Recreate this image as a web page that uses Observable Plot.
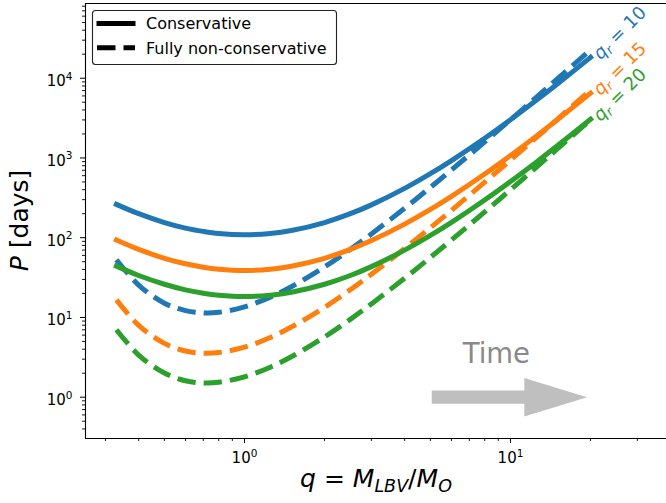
<!DOCTYPE html>
<html><head><meta charset="utf-8">
<script src="https://cdn.jsdelivr.net/npm/d3@7"></script>
<script src="https://cdn.jsdelivr.net/npm/@observablehq/plot@0.6"></script>
<style>
html,body{margin:0;padding:0;background:#fff;}
#chart svg{display:block;}
</style></head><body><div id="chart"></div>
<script>
// ---- data ----
const qValues = [0.33,0.4,0.5,0.6,0.7,0.8,1,1.25,1.5,2,2.5,3,4,5,6,8,10,12.5,15,20];
const consQr10 = [262,200,155,132,120,113,109,113,123,155,200,258,416,636,928,1768,3017,5279,8466,18260];
const consQr15 = [93.4,71.3,55.2,47.1,42.7,40.3,38.8,40.3,43.9,55.2,71.3,92,148,226,330,629,1074,1879,3014,6500];
const consQr20 = [44,33.6,26.1,22.2,20.1,19.0,18.3,19.0,20.7,26.1,33.6,43.4,69.8,106.7,155.7,296.8,506.5,886,1421,3065];
const nonConsQr10 = [53.0,25.5,15.1,12.2,11.4,11.6,13.6,18.0,24.3,43.1,71.5,111.5,234,428,707,1590,3014,5752,9793,22790];
const nonConsQr15 = [16.6,7.97,4.73,3.80,3.56,3.63,4.24,5.61,7.58,13.4,22.3,34.8,73.2,133.5,220.7,496.6,941,1796,3058,7116];
const nonConsQr20 = [7.03,3.38,2.01,1.61,1.51,1.54,1.80,2.38,3.21,5.70,9.47,14.8,31.0,56.6,93.6,210.6,399,762,1297,3018];
const qrLabels = ["10","15","20"];
const seriesColors = ["#1f77b4","#ff7f0e","#2ca02c"];
const legendItems = ["Conservative","Fully non-conservative"];
const xMajorTicks = [1,10];
const yMajorTicks = [1,10,100,1000,10000];
const timeLabel = "Time";

// ---- scale limits and annotation anchors ----
const xDomain = [0.2525, 38.6];
const yDomain = [0.3035, 86500];
const arrowY = 1, arrowStart = 5.08, arrowHeadBase = 11.4, arrowTip = 19.4;
const timeX = 8.85, timeY = 3.5;

const xMinorTicks = [];
[0.1,1,10].forEach(d => { for (let k = 2; k <= 9; k++) { const v = +(k*d).toFixed(3); if (v > xDomain[0] && v < xDomain[1]) xMinorTicks.push(v); } });
const yMinorTicks = [];
[0.1,1,10,100,1000,10000].forEach(d => { for (let k = 2; k <= 9; k++) { const v = +(k*d).toFixed(3); if (v > yDomain[0] && v < yDomain[1]) yMinorTicks.push(v); } });

const consSets = [consQr10, consQr15, consQr20];
const nonConsSets = [nonConsQr10, nonConsQr15, nonConsQr20];
const toRows = arr => qValues.map((q, i) => ({q, P: arr[i]}));

const LW = 5;
const DASH = "18.5,8";
const sup = d => `10^${Math.round(Math.log10(d))}`;

const marks = [];
for (let s = 0; s < 3; s++) {
  marks.push(Plot.line(toRows(consSets[s]), {x: "q", y: "P", stroke: seriesColors[s], strokeWidth: LW, curve: "catmull-rom", strokeLinecap: "square"}));
  marks.push(Plot.line(toRows(nonConsSets[s]), {x: "q", y: "P", stroke: seriesColors[s], strokeWidth: LW, curve: "catmull-rom", strokeDasharray: DASH, strokeLinecap: "butt"}));
}
for (let s = 0; s < 3; s++) {
  const last = qValues.length - 1;
  marks.push(Plot.text([{q: qValues[last], P: consSets[s][last], t: "q_r = " + qrLabels[s]}], {
    x: "q", y: "P", text: "t", fill: seriesColors[s], fontSize: 18, rotate: -45,
    textAnchor: "start", lineAnchor: "middle", dx: 6, dy: -1
  }));
}
// Time annotation
marks.push(Plot.ruleY([arrowY], {x1: arrowStart, x2: arrowHeadBase, stroke: "#bfbfbf", strokeWidth: 13.3}));
const headSymbol = {draw(ctx) { ctx.moveTo(0, 0); ctx.lineTo(-62.7, -19.2); ctx.lineTo(-62.7, 19.2); ctx.closePath(); }};
marks.push(Plot.dot([{q: arrowTip, P: arrowY}], {x: "q", y: "P", symbol: headSymbol, fill: "#bfbfbf", stroke: "none"}));
marks.push(Plot.text([{q: timeX, P: timeY, t: timeLabel}], {x: "q", y: "P", text: "t", fill: "#8a8a8a", fontSize: 27.5, lineAnchor: "middle"}));
// spines
marks.push(Plot.ruleX([xDomain[0]], {stroke: "black", strokeWidth: 1.1}));
marks.push(Plot.ruleY([yDomain[0], yDomain[1]], {stroke: "black", strokeWidth: 1.1}));
// axes
marks.push(Plot.axisX(xMinorTicks, {tickSize: 3, tickFormat: () => "", label: null, strokeWidth: 0.9}));
marks.push(Plot.axisX(xMajorTicks, {tickSize: 5, tickFormat: () => "", label: null, strokeWidth: 1}));
marks.push(Plot.axisX(xMajorTicks, {tickSize: 0, tickPadding: 14, tickFormat: sup, fontSize: 15, label: null, fill: "black"}));
marks.push(Plot.axisY(yMinorTicks, {tickSize: 3, tickFormat: () => "", label: null, strokeWidth: 0.9}));
marks.push(Plot.axisY(yMajorTicks, {tickSize: 5, tickFormat: () => "", label: null, strokeWidth: 1}));
marks.push(Plot.axisY(yMajorTicks, {tickSize: 0, tickPadding: 13, tickFormat: sup, fontSize: 15, label: null, dy: 3, fill: "black"}));

const svg = Plot.plot({
  width: 666, height: 503,
  marginLeft: 85, marginRight: 0, marginTop: 3, marginBottom: 65,
  style: {fontFamily: '"DejaVu Sans", sans-serif', fontSize: "14px", background: "white", color: "black"},
  x: {type: "log", domain: xDomain, label: null},
  y: {type: "log", domain: yDomain, label: null},
  marks
});

const NS = "http://www.w3.org/2000/svg";
function tspan(parent, txt, attrs = {}) {
  const t = document.createElementNS(NS, "tspan");
  for (const k in attrs) t.setAttribute(k, attrs[k]);
  t.textContent = txt;
  parent.appendChild(t);
  return t;
}
svg.querySelectorAll("text").forEach(t => {
  const txt = t.textContent;
  let m = /^10\^(-?\d+)$/.exec(txt);
  if (m) {
    t.textContent = "";
    t.setAttribute("font-size", "15px");
    t.style.fontSize = "15px";
    tspan(t, "10");
    tspan(t, m[1], {dy: "-6.5", "font-size": "10.5px"});
    return;
  }
  m = /^q_r = (\d+)$/.exec(txt);
  if (m) {
    t.textContent = "";
    tspan(t, "q", {"font-style": "italic"});
    tspan(t, "r", {"font-style": "italic", "font-size": "12.5px", dy: "3"});
    tspan(t, " = " + m[1], {dy: "-3"});
  }
});

const S = d3.select(svg);
// axis titles
const yl = S.append("text").attr("transform", "translate(28,220.5) rotate(-90)")
  .attr("text-anchor", "middle").attr("font-size", 25).attr("fill", "black").node();
tspan(yl, "P", {"font-style": "italic"});
tspan(yl, " [days]");
const xl = S.append("text").attr("x", 376).attr("y", 487)
  .attr("text-anchor", "middle").attr("font-size", 25).attr("fill", "black").node();
tspan(xl, "q", {"font-style": "italic"});
tspan(xl, " = ");
tspan(xl, "M", {"font-style": "italic"});
tspan(xl, "LBV", {"font-style": "italic", "font-size": "17.5px", dy: "5"});
tspan(xl, "/", {dy: "-5"});
tspan(xl, "M", {"font-style": "italic"});
tspan(xl, "O", {"font-style": "italic", "font-size": "17.5px", dy: "5"});

// legend
const lg = S.append("g");
lg.append("rect").attr("x", 92.5).attr("y", 10.5).attr("width", 244).attr("height", 54).attr("rx", 3)
  .attr("fill", "white").attr("stroke", "#222").attr("stroke-width", 1.1);
legendItems.forEach((name, i) => {
  const y = 23.5 + i * 24.3;
  lg.append("line").attr("x1", i ? 97 : 99).attr("x2", i ? 135 : 133).attr("y1", y).attr("y2", y)
    .attr("stroke", "black").attr("stroke-width", LW)
    .attr("stroke-linecap", i ? "butt" : "square")
    .attr("stroke-dasharray", i ? DASH : null);
  lg.append("text").attr("x", 146).attr("y", y).attr("dy", "0.36em").attr("font-size", 16)
    .attr("text-anchor", "start").attr("fill", "black").text(name);
});

document.getElementById("chart").appendChild(svg);
</script>
</body></html>
